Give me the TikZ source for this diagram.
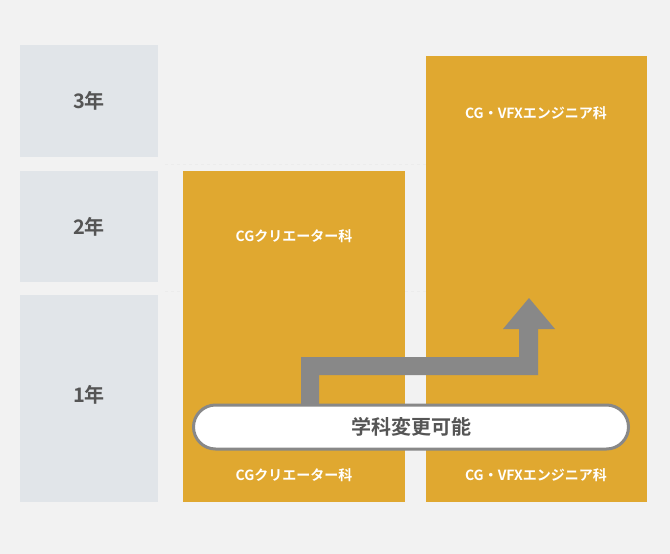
\documentclass[tikz,border=0pt]{standalone}
\usepackage{fontspec}
\newfontfamily\cjk{Noto Sans CJK JP}[BoldFont={Noto Sans CJK JP Bold}]
\definecolor{bg}{HTML}{F2F2F2}
\definecolor{yr}{HTML}{E1E5E9}
\definecolor{org}{HTML}{E0A830}
\definecolor{gr}{HTML}{888888}
\definecolor{tx}{HTML}{555555}
\tikzset{
  yearbox/.style={fill=yr,draw=none,inner sep=0},
  yeartxt/.style={font=\cjk\bfseries\fontsize{20}{22}\selectfont,text=tx},
  deptbox/.style={fill=org,draw=none,inner sep=0},
  depttxt/.style={font=\cjk\bfseries\fontsize{14}{16}\selectfont,text=white},
  guide/.style={draw=white!85!gray,dashed,line width=0.8pt},
}
\begin{document}
\begin{tikzpicture}[x=1pt,y=-1pt]
\fill[bg] (0,0) rectangle (670,554);
\useasboundingbox (0,0) rectangle (670,554);
% year column
\fill[yr] (20,45) rectangle (158,157);
\fill[yr] (20,171) rectangle (158,282);
\fill[yr] (20,295) rectangle (158,502);
\node[yeartxt] (y3) at (89,101) {3年};
\node[yeartxt] (y2) at (89,227) {2年};
\node[yeartxt] (y1) at (89,395) {1年};
% guides
\draw[guide] (165,164) -- (647,164);
\draw[guide] (165,291) -- (647,291);
% departments
\fill[org] (183,171) rectangle (405,502);
\fill[org] (426,56) rectangle (647,502);
\node[depttxt] (cg2) at (294,236) {CGクリエーター科};
\node[depttxt] (cg1) at (294,475) {CGクリエーター科};
\node[depttxt] (vfx3) at (536,113) {CG・VFXエンジニア科};
\node[depttxt] (vfx1) at (536,475) {CG・VFXエンジニア科};
% arrow
\fill[gr] (301,410) -- (301,357) -- (519,357) -- (519,329) -- (503,329) -- (529,298)
  -- (555,329) -- (538,329) -- (538,375) -- (319,375) -- (319,410) -- cycle;
% pill
\node[draw=gr,line width=3pt,fill=white,rounded corners=22pt,minimum width=435pt,minimum height=44pt,
  font=\cjk\bfseries\fontsize{20}{22}\selectfont,text=tx] (chg) at (411,427) {学科変更可能};
\end{tikzpicture}
\end{document}
